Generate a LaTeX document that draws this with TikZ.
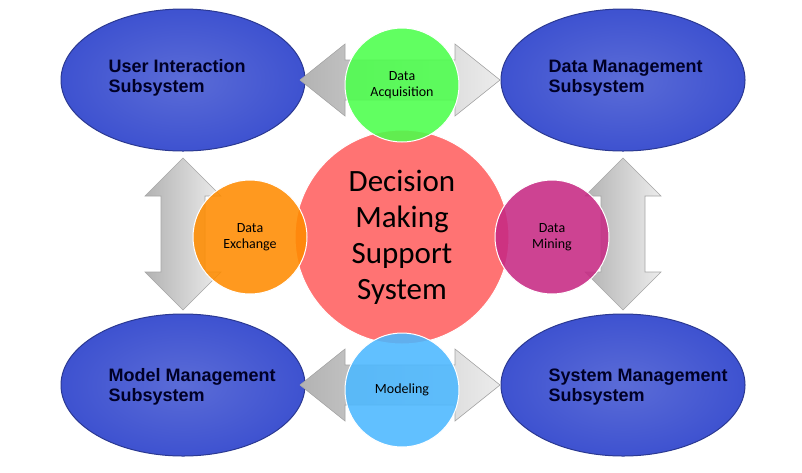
\documentclass[tikz,border=0pt]{standalone}
\usepackage{fontspec}
\setmainfont{Carlito}
\newfontfamily\arialb[BoldFont={Liberation Sans Bold}]{Liberation Sans}
\definecolor{ellb}{RGB}{62,82,208}
\begin{document}
\begin{tikzpicture}[x=1pt,y=-1pt,
  sub/.style={ellipse,draw=ellb!70!black,line width=1pt,inner color=ellb!85!white,outer color=ellb,minimum width=244pt,minimum height=142pt},
  sublbl/.style={align=left,text=black!85!blue,font=\arialb\bfseries\fontsize{18}{20}\selectfont,anchor=west},
  small/.style={circle,minimum size=114pt,draw=white,line width=1pt,fill opacity=0.88,text opacity=1,align=center,font=\fontsize{14}{16}\selectfont},
  arr/.style={draw=gray!70,line width=0.6pt}]
\usetikzlibrary{shapes.geometric}
\useasboundingbox (0,0) rectangle (802,472);
\fill[white] (0,0) rectangle (802,472);
\node[sub] (ui) at (183,80) {};
\node[sub] (dm) at (623,80) {};
\node[sub] (mm) at (183,385) {};
\node[sub] (sm) at (623,385) {};
\foreach \y in {80,385}{
\shade[left color=gray!60,right color=gray!15,arr] (300,\y) -- (345,\y-36) -- (345,\y-20) -- (455,\y-20) -- (455,\y-36) -- (500,\y) -- (455,\y+36) -- (455,\y+20) -- (345,\y+20) -- (345,\y+36) -- cycle;}
\foreach \x in {183,623}{
\shade[left color=gray!60,right color=gray!15,arr] (\x,158) -- (\x+38,196) -- (\x+22,196) -- (\x+22,272) -- (\x+38,272) -- (\x,310) -- (\x-38,272) -- (\x-22,272) -- (\x-22,196) -- (\x-38,196) -- cycle;}
\node[circle,minimum size=214pt,fill=red!55!white,draw=white,line width=1pt,align=center,font=\fontsize{31}{36}\selectfont] (dmss) at (402,237) {Decision\\Making\\Support\\System};
\node[small,fill=green!70!white] (da) at (402,85) {Data\\Acquisition};
\node[small,fill=orange!90!yellow] (de) at (250,237) {Data\\Exchange};
\node[small,fill=magenta!80!black] (dmi) at (552,237) {Data\\Mining};
\node[small,fill=blue!40!cyan!70!white] (mo) at (402,390) {Modeling};
\node[sublbl] at (105,78) {User Interaction\\Subsystem};
\node[sublbl] at (545,78) {Data Management\\Subsystem};
\node[sublbl] at (105,387) {Model Management\\Subsystem};
\node[sublbl] at (545,387) {System Management\\Subsystem};
\end{tikzpicture}
\end{document}
